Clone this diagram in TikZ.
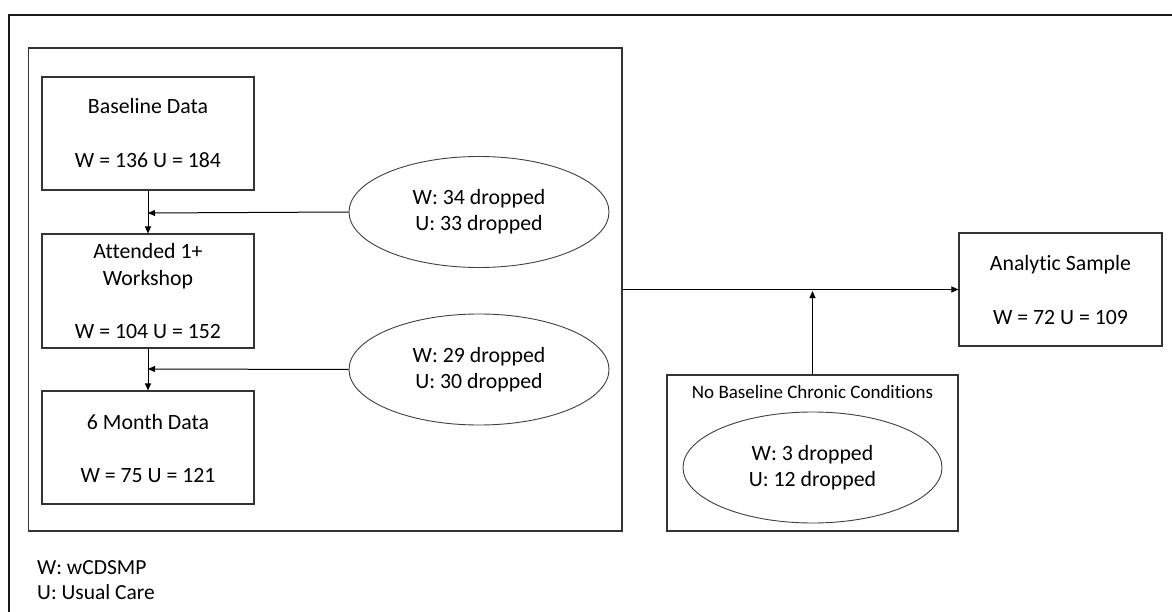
\documentclass[tikz,border=0pt]{standalone}
\usepackage{fontspec}
\setmainfont{Carlito}[Ligatures={NoCommon}]
\usetikzlibrary{shapes.geometric,arrows.meta}
\begin{document}
\begin{tikzpicture}[x=1pt,y=-1pt,
  boxshape/.style={draw=black!80,line width=1.1pt,rectangle,inner sep=0pt},
  ovalshape/.style={draw=black!75,line width=0.9pt,ellipse,inner sep=0pt,
    minimum width=260pt,minimum height=111pt,align=center,
    font=\fontsize{21.8}{26}\selectfont},
  txt/.style={anchor=base,inner sep=0pt,font=\fontsize{21.8}{26}\selectfont},
  smalltxt/.style={anchor=base,inner sep=0pt,font=\fontsize{19}{22}\selectfont},
  legendtxt/.style={anchor=base west,inner sep=0pt,font=\fontsize{21.5}{26}\selectfont},
  conn/.style={draw=black,line width=1pt,-{Triangle[length=7pt,width=6pt]}},
  plain/.style={draw=black,line width=1pt}]
\useasboundingbox (0,0) rectangle (1172,612);
\fill[white] (0,0) rectangle (1172,612);
% outer frame
\draw[line width=2.5pt,black!90] (9,612) -- (9,15) -- (1172,15);
% inner big box
\node[boxshape,minimum width=593.5pt,minimum height=483pt] (inner) at (325.25,289.5) {};
% left column boxes
\node[boxshape,minimum width=212pt,minimum height=113pt] (base) at (148,133.5) {};
\node[boxshape,minimum width=212pt,minimum height=114pt] (att) at (148,291) {};
\node[boxshape,minimum width=212pt,minimum height=113pt] (month) at (148,447.5) {};
\node[txt] (baseA) at (148,114) {Baseline Data};
\node[txt] (baseB) at (148,168) {W = 136 U = 184};
\node[txt] (attA) at (148,259) {Attended 1+};
\node[txt] (attB) at (148,285) {Workshop};
\node[txt] (attC) at (148,338) {W = 104 U = 152};
\node[txt] (monthA) at (148,429) {6 Month Data};
\node[txt] (monthB) at (148,482) {W = 75 U = 121};
% ellipses
\node[ovalshape] (e1) at (479,212) {W: 34 dropped\\U: 33 dropped};
\node[ovalshape] (e2) at (479,369.5) {W: 29 dropped\\U: 30 dropped};
% analytic sample
\node[boxshape,minimum width=203pt,minimum height=113pt] (ana) at (1060.5,289.5) {};
\node[txt] (anaA) at (1060.5,270) {Analytic Sample};
\node[txt] (anaB) at (1060.5,324) {W = 72 U = 109};
% no baseline
\node[boxshape,minimum width=291pt,minimum height=156pt] (nob) at (812.5,453) {};
\node[smalltxt] (nobA) at (812.5,398) {No Baseline Chronic Conditions};
\node[ovalshape,minimum width=259pt] (e3) at (812.5,467.5) {W: 3 dropped\\U: 12 dropped};
% legend
\node[legendtxt] (legW) at (37,574) {W: wCDSMP};
\node[legendtxt] (legU) at (37,599) {U: Usual Care};
% connector points
\coordinate (m1) at (148,213);
\coordinate (m2) at (148,369);
\coordinate (m3) at (812.5,291);
% connectors
\draw[conn] (base.south) -- (att.north);
\draw[conn] (att.south) -- (month.north);
\draw[conn] (e1.west) -- (m1);
\draw[conn] (e2.west) -- (m2);
\draw[conn] (inner.east) -- (ana.west);
\draw[conn] (nob.north) -- (m3);
\end{tikzpicture}
\end{document}
